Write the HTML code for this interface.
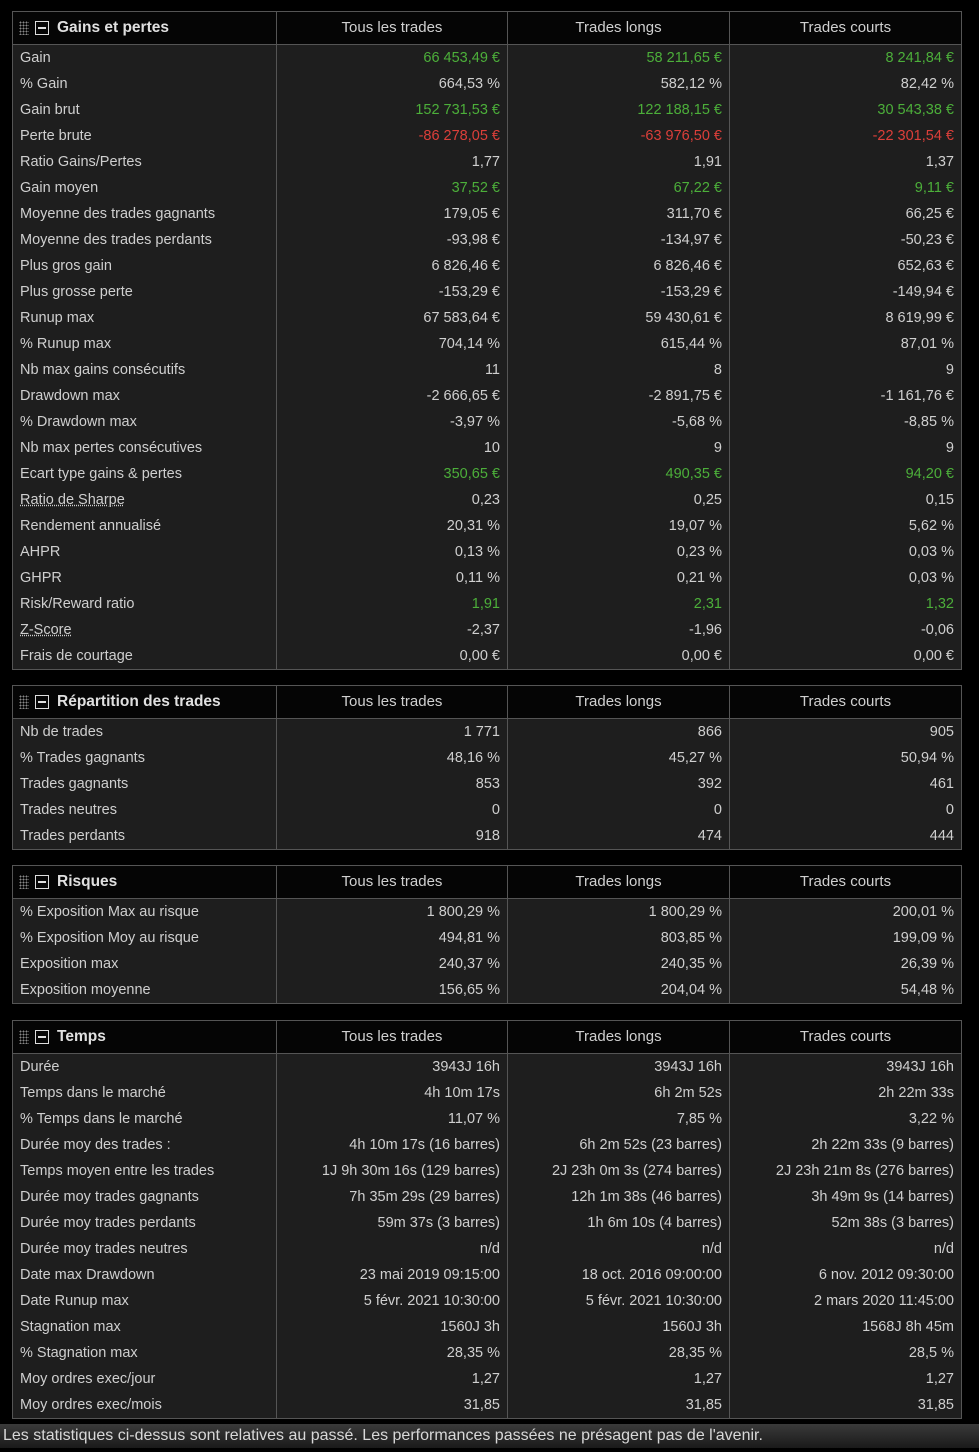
<!DOCTYPE html>
<html><head><meta charset="utf-8">
<style>
html,body{margin:0;padding:0;background:#000;width:979px;height:1452px;overflow:hidden;font-family:"Liberation Sans",Arial,sans-serif;}
.sec{position:absolute;left:12px;width:950px;border:1px solid #555;box-sizing:border-box;background:#1e1e1e;}
.hdr{height:32px;background:#050505;border-bottom:1px solid #555;display:flex;}
.row{height:26px;display:flex;}
.c0{width:264px;border-right:1px solid #555;box-sizing:border-box;padding-left:7px;color:#cfcfcf;font-size:14.5px;line-height:26px;white-space:nowrap;}
.c1{width:231px;border-right:1px solid #555;box-sizing:border-box;}
.c2{width:222px;border-right:1px solid #555;box-sizing:border-box;}
.c3{flex:1;box-sizing:border-box;}
.v{text-align:right;padding-right:7px;color:#cfcfcf;font-size:14.5px;line-height:26px;white-space:nowrap;}
.h{text-align:center;color:#d0d0d0;font-size:15px;line-height:32px;}
.title{color:#e0e0e0;font-weight:bold;font-size:15.5px;line-height:32px;padding-left:6px;display:flex;align-items:center;}
.grip{width:10px;height:14px;margin-right:6px;background-image:radial-gradient(#888 0.8px,transparent 1px);background-size:3px 3px;}
.minus{width:14px;height:14px;border:1.5px solid #ddd;box-sizing:border-box;position:relative;margin-right:8px;}
.minus:after{content:"";position:absolute;left:2px;right:2px;top:4.5px;height:2px;background:#ddd;}
.g{color:#4caf3a}.r{color:#dc3f3a}
.dot{text-decoration:underline dotted;}
#foot{position:absolute;left:0;top:1424px;width:979px;height:24px;background:linear-gradient(#3a3a3a,#1a1a1a);color:#d8d8d8;font-size:16px;line-height:24px;padding-left:3px;box-sizing:border-box;white-space:nowrap;}
</style></head>
<body>
<div id="root"></div>
<div id="foot">Les statistiques ci-dessus sont relatives au passé. Les performances passées ne présagent pas de l'avenir.</div>
<script>
const colHeads=["Tous les trades","Trades longs","Trades courts"];
const secTitles=["Gains et pertes","Répartition des trades","Risques","Temps"];
const secTops=[11,685,865,1020];
const gainsRows=[
["Gain","66 453,49 €","58 211,65 €","8 241,84 €","g"],
["% Gain","664,53 %","582,12 %","82,42 %",""],
["Gain brut","152 731,53 €","122 188,15 €","30 543,38 €","g"],
["Perte brute","-86 278,05 €","-63 976,50 €","-22 301,54 €","r"],
["Ratio Gains/Pertes","1,77","1,91","1,37",""],
["Gain moyen","37,52 €","67,22 €","9,11 €","g"],
["Moyenne des trades gagnants","179,05 €","311,70 €","66,25 €",""],
["Moyenne des trades perdants","-93,98 €","-134,97 €","-50,23 €",""],
["Plus gros gain","6 826,46 €","6 826,46 €","652,63 €",""],
["Plus grosse perte","-153,29 €","-153,29 €","-149,94 €",""],
["Runup max","67 583,64 €","59 430,61 €","8 619,99 €",""],
["% Runup max","704,14 %","615,44 %","87,01 %",""],
["Nb max gains consécutifs","11","8","9",""],
["Drawdown max","-2 666,65 €","-2 891,75 €","-1 161,76 €",""],
["% Drawdown max","-3,97 %","-5,68 %","-8,85 %",""],
["Nb max pertes consécutives","10","9","9",""],
["Ecart type gains & pertes","350,65 €","490,35 €","94,20 €","g"],
["Ratio de Sharpe","0,23","0,25","0,15","d"],
["Rendement annualisé","20,31 %","19,07 %","5,62 %",""],
["AHPR","0,13 %","0,23 %","0,03 %",""],
["GHPR","0,11 %","0,21 %","0,03 %",""],
["Risk/Reward ratio","1,91","2,31","1,32","g"],
["Z-Score","-2,37","-1,96","-0,06","d"],
["Frais de courtage","0,00 €","0,00 €","0,00 €",""]];
const repRows=[
["Nb de trades","1 771","866","905",""],
["% Trades gagnants","48,16 %","45,27 %","50,94 %",""],
["Trades gagnants","853","392","461",""],
["Trades neutres","0","0","0",""],
["Trades perdants","918","474","444",""]];
const riskRows=[
["% Exposition Max au risque","1 800,29 %","1 800,29 %","200,01 %",""],
["% Exposition Moy au risque","494,81 %","803,85 %","199,09 %",""],
["Exposition max","240,37 %","240,35 %","26,39 %",""],
["Exposition moyenne","156,65 %","204,04 %","54,48 %",""]];
const timeRows=[
["Durée","3943J 16h","3943J 16h","3943J 16h",""],
["Temps dans le marché","4h 10m 17s","6h 2m 52s","2h 22m 33s",""],
["% Temps dans le marché","11,07 %","7,85 %","3,22 %",""],
["Durée moy des trades :","4h 10m 17s (16 barres)","6h 2m 52s (23 barres)","2h 22m 33s (9 barres)",""],
["Temps moyen entre les trades","1J 9h 30m 16s (129 barres)","2J 23h 0m 3s (274 barres)","2J 23h 21m 8s (276 barres)",""],
["Durée moy trades gagnants","7h 35m 29s (29 barres)","12h 1m 38s (46 barres)","3h 49m 9s (14 barres)",""],
["Durée moy trades perdants","59m 37s (3 barres)","1h 6m 10s (4 barres)","52m 38s (3 barres)",""],
["Durée moy trades neutres","n/d","n/d","n/d",""],
["Date max Drawdown","23 mai 2019 09:15:00","18 oct. 2016 09:00:00","6 nov. 2012 09:30:00",""],
["Date Runup max","5 févr. 2021 10:30:00","5 févr. 2021 10:30:00","2 mars 2020 11:45:00",""],
["Stagnation max","1560J 3h","1560J 3h","1568J 8h 45m",""],
["% Stagnation max","28,35 %","28,35 %","28,5 %",""],
["Moy ordres exec/jour","1,27","1,27","1,27",""],
["Moy ordres exec/mois","31,85","31,85","31,85",""]];
const allRows=[gainsRows,repRows,riskRows,timeRows];
const root=document.getElementById('root');
function slug(s){return s.toLowerCase().normalize('NFD').replace(/[\u0300-\u036f]/g,'').replace(/[^a-z0-9]+/g,'-').replace(/^-|-$/g,'');}
for(let s=0;s<4;s++){
  const sec=document.createElement('div');
  sec.className='sec';
  sec.style.top=secTops[s]+'px';
  
  
  const hdr=document.createElement('div');hdr.className='hdr';
  
  
  const t=document.createElement('div');t.className='c0 title';
  t.innerHTML='<span class="grip"></span><span class="minus"></span><span>'+secTitles[s]+'</span>';
  
  
  hdr.appendChild(t);
  for(let c=0;c<3;c++){const d=document.createElement('div');d.className='c'+(c+1)+' h';d.textContent=colHeads[c];
    
    
    hdr.appendChild(d);}
  sec.appendChild(hdr);
  for(const r of allRows[s]){
    const row=document.createElement('div');row.className='row';
    
    
    const l=document.createElement('div');l.className='c0';
    l.innerHTML=r[4]==='d'?'<span class="dot">'+r[0]+'</span>':r[0];
    
    
    row.appendChild(l);
    for(let c=0;c<3;c++){const d=document.createElement('div');d.className='c'+(c+1)+' v'+(r[4]==='g'?' g':r[4]==='r'?' r':'');d.textContent=r[c+1];
      
      
      row.appendChild(d);}
    sec.appendChild(row);
  }
  root.appendChild(sec);
}
</script>
</body></html>
